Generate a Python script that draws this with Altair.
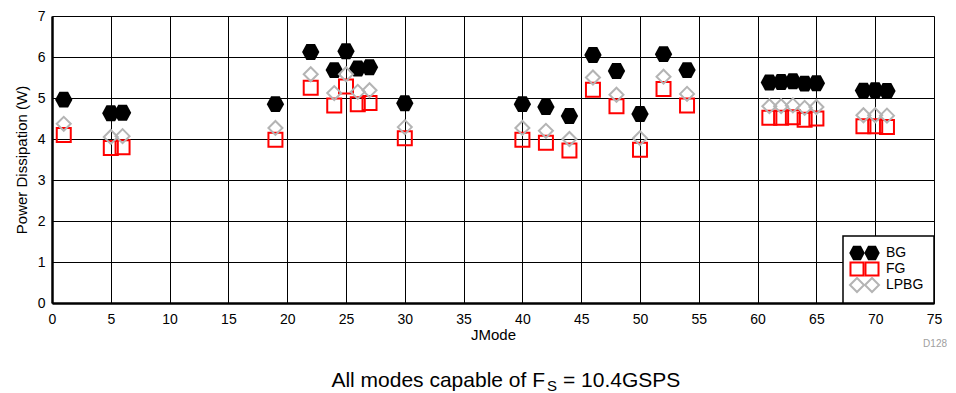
import altair as alt
import pandas as pd

jmode = [1, 5, 6, 19, 22, 24, 25, 26, 27, 30, 40, 42, 44, 46, 48, 50, 52, 54,
         61, 62, 63, 64, 65, 69, 70, 71]
bg = [4.96, 4.63, 4.64, 4.85, 6.12, 5.68, 6.14, 5.72, 5.75, 4.87, 4.85, 4.78,
      4.56, 6.05, 5.66, 4.61, 6.07, 5.68, 5.38, 5.39, 5.41, 5.35, 5.36, 5.18,
      5.19, 5.17]
fg = [4.10, 3.78, 3.80, 3.98, 5.25, 4.82, 5.28, 4.85, 4.88, 4.02, 3.98, 3.91,
      3.72, 5.20, 4.80, 3.74, 5.22, 4.82, 4.52, 4.52, 4.53, 4.47, 4.50, 4.31,
      4.31, 4.29]
lpbg = [4.37, 4.05, 4.07, 4.27, 5.58, 5.12, 5.58, 5.15, 5.19, 4.29, 4.27, 4.20,
        4.00, 5.50, 5.08, 4.02, 5.52, 5.10, 4.80, 4.80, 4.82, 4.76, 4.78, 4.58,
        4.58, 4.57]

series_names = ["BG", "FG", "LPBG"]
x_ticks = list(range(0, 80, 5))
y_ticks = list(range(0, 8))

FONT = "Liberation Sans"
HEX = "M-1,0L-0.5,-0.92L0.5,-0.92L1,0L0.5,0.92L-0.5,0.92Z"

df = pd.DataFrame({"JMode": jmode, "BG": bg, "FG": fg, "LPBG": lpbg})

W, H = 882, 287

xenc = alt.X("JMode:Q",
             scale=alt.Scale(domain=[0, 75], nice=False, zero=False),
             axis=alt.Axis(values=x_ticks, title="JMode", grid=True,
                           gridColor="#000000", gridWidth=1, gridOpacity=1,
                           ticks=False, labelFont=FONT, labelFontSize=14,
                           labelColor="#000", labelPadding=9,
                           titleFont=FONT, titleFontSize=15, titleFontWeight="normal",
                           titleColor="#000", titlePadding=1,
                           domainColor="#000", domainWidth=2.5, labelFlush=False))

def yenc(field):
    return alt.Y(f"{field}:Q",
                 scale=alt.Scale(domain=[0, 7], nice=False, zero=True),
                 axis=alt.Axis(values=y_ticks, title="Power Dissipation (W)", grid=True,
                               gridColor="#000000", gridWidth=1, gridOpacity=1,
                               ticks=False, labelFont=FONT, labelFontSize=14,
                               labelColor="#000", labelPadding=7,
                               titleFont=FONT, titleFontSize=15, titleFontWeight="normal",
                               titleColor="#000", titlePadding=8,
                               domainColor="#000", domainWidth=2.5, labelFlush=False))

base = alt.Chart(df)

bg_layer = base.mark_point(shape=HEX, filled=True, color="#000000", size=300,
                           opacity=1).encode(x=xenc, y=yenc("BG"))
fg_layer = base.mark_point(shape="square", filled=False, color="#ff0000", size=196,
                           strokeWidth=2, opacity=1).encode(x=xenc, y=yenc("FG"))
lp_layer = base.mark_point(shape="diamond", filled=False, color="#b4b4b4", size=196,
                           strokeWidth=2, opacity=1).encode(x=xenc, y=yenc("LPBG"))

one = pd.DataFrame({"k": [0]})
lb = alt.Chart(one)

legend_box = lb.mark_rect(fill="#ffffff", stroke="#000000", strokeWidth=1.5).encode(
    x=alt.value(791), x2=alt.value(882), y=alt.value(220), y2=alt.value(287))

leg_rows = [237, 253, 269]
leg_layers = [legend_box]
styles = [
    dict(shape=HEX, filled=True, color="#000000", size=240),
    dict(shape="square", filled=False, color="#ff0000", size=170, strokeWidth=2),
    dict(shape="diamond", filled=False, color="#b4b4b4", size=196, strokeWidth=2),
]
for name, yy, st in zip(series_names, leg_rows, styles):
    for xx in (805, 820):
        leg_layers.append(lb.mark_point(opacity=1, **st).encode(
            x=alt.value(xx), y=alt.value(yy)))
    leg_layers.append(lb.mark_text(text=name, font=FONT, fontSize=14, align="left",
                                   baseline="middle", color="#000").encode(
        x=alt.value(834), y=alt.value(yy)))

d128 = lb.mark_text(text="D128", font=FONT, fontSize=10, align="right",
                    baseline="middle", color="#a0a0a0").encode(
    x=alt.value(895), y=alt.value(328))

cap1 = lb.mark_text(text="All modes capable of F", font=FONT, fontSize=21,
                    align="right", baseline="alphabetic", color="#000").encode(
    x=alt.value(493), y=alt.value(371))
cap2 = lb.mark_text(text="S", font=FONT, fontSize=15, align="left",
                    baseline="alphabetic", color="#000").encode(
    x=alt.value(495), y=alt.value(375))
cap3 = lb.mark_text(text="= 10.4GSPS", font=FONT, fontSize=21, align="left",
                    baseline="alphabetic", color="#000").encode(
    x=alt.value(511), y=alt.value(371))

chart = alt.layer(bg_layer, fg_layer, lp_layer, *leg_layers, d128, cap1, cap2, cap3).properties(
    width=W, height=H,
    padding={"left": 6, "top": 1, "right": 0, "bottom": 0},
).configure_view(stroke="#000000", strokeWidth=1.5).configure(background="#ffffff")

chart.save("out.html", embed_options={"renderer": "svg", "actions": False})
